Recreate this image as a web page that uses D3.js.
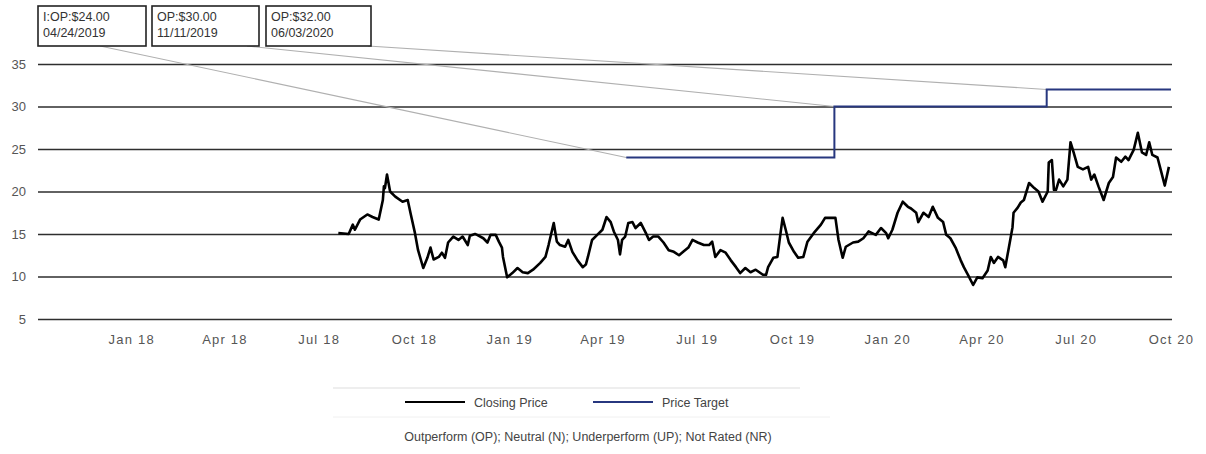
<!DOCTYPE html>
<html>
<head>
<meta charset="utf-8">
<script src="https://cdn.jsdelivr.net/npm/d3@7/dist/d3.min.js"></script>
<style>
  * { margin: 0; padding: 0; }
  body { background: #fff; }
  svg text { font-family: "Liberation Sans", Arial, sans-serif; }
  .grid line { stroke: #2e2e2e; stroke-width: 1.7; }
  .grid text, .xaxis text { fill: #555; font-size: 13px; }
  .xaxis text { letter-spacing: 1.2px; }
</style>
</head>
<body>
<script>
// closing price
var priceDates = [
  "2018-07-20","2018-07-30","2018-08-03","2018-08-05","2018-08-10","2018-08-17","2018-08-22","2018-08-28",
  "2018-09-01","2018-09-02","2018-09-03","2018-09-05","2018-09-08","2018-09-13","2018-09-20","2018-09-25",
  "2018-09-28","2018-10-02","2018-10-05","2018-10-10","2018-10-14","2018-10-17","2018-10-20","2018-10-25",
  "2018-10-28","2018-10-31","2018-11-03","2018-11-08","2018-11-13","2018-11-17","2018-11-22","2018-11-24",
  "2018-11-29","2018-12-01","2018-12-07","2018-12-11","2018-12-14","2018-12-19","2018-12-22","2018-12-25",
  "2018-12-26","2018-12-30","2019-01-04","2019-01-09","2019-01-14","2019-01-19","2019-01-24","2019-01-31",
  "2019-02-05","2019-02-08","2019-02-13","2019-02-16","2019-02-19","2019-02-24","2019-02-27","2019-03-03",
  "2019-03-08","2019-03-13","2019-03-16","2019-03-18","2019-03-22","2019-03-27","2019-04-01","2019-04-05",
  "2019-04-09","2019-04-12","2019-04-16","2019-04-18","2019-04-20","2019-04-23","2019-04-26","2019-04-30",
  "2019-05-03","2019-05-08","2019-05-13","2019-05-16","2019-05-20","2019-05-25","2019-05-30","2019-06-04",
  "2019-06-09","2019-06-14","2019-06-18","2019-06-23","2019-06-27","2019-07-02","2019-07-08","2019-07-13",
  "2019-07-16","2019-07-19","2019-07-24","2019-07-29","2019-08-03","2019-08-08","2019-08-12","2019-08-17",
  "2019-08-22","2019-08-27","2019-09-03","2019-09-06","2019-09-08","2019-09-13","2019-09-17","2019-09-20",
  "2019-09-22","2019-09-25","2019-09-28","2019-10-03","2019-10-07","2019-10-12","2019-10-16","2019-10-22",
  "2019-10-29","2019-11-02","2019-11-07","2019-11-12","2019-11-15","2019-11-19","2019-11-22","2019-11-29",
  "2019-12-04","2019-12-09","2019-12-14","2019-12-21","2019-12-26","2019-12-31","2020-01-02","2020-01-06",
  "2020-01-11","2020-01-16","2020-01-21","2020-01-24","2020-01-29","2020-01-31","2020-02-05","2020-02-10",
  "2020-02-14","2020-02-19","2020-02-24","2020-02-27","2020-03-02","2020-03-07","2020-03-12","2020-03-15",
  "2020-03-19","2020-03-24","2020-03-28","2020-04-02","2020-04-07","2020-04-10","2020-04-13","2020-04-17",
  "2020-04-22","2020-04-24","2020-04-27","2020-05-01","2020-05-02","2020-05-06","2020-05-09","2020-05-12",
  "2020-05-17","2020-05-22","2020-05-26","2020-05-30","2020-06-04","2020-06-05","2020-06-08","2020-06-10",
  "2020-06-12","2020-06-15","2020-06-19","2020-06-23","2020-06-26","2020-06-29","2020-07-03","2020-07-08",
  "2020-07-13","2020-07-16","2020-07-19","2020-07-23","2020-07-28","2020-08-02","2020-08-06","2020-08-09",
  "2020-08-14","2020-08-18","2020-08-21","2020-08-26","2020-08-30","2020-09-03","2020-09-07","2020-09-10",
  "2020-09-13","2020-09-18","2020-09-21","2020-09-25","2020-09-29"
];
var priceValues = [
  15.1,15.0,16.1,15.5,16.7,17.3,17.0,16.7,
  19.0,20.6,20.4,22.0,20.0,19.4,18.8,19.0,
  17.3,15.1,13.1,11.0,12.2,13.4,12.0,12.3,
  12.8,12.2,14.0,14.7,14.3,14.7,13.7,14.8,
  15.0,14.9,14.5,14.0,14.9,14.9,14.1,13.4,
  12.3,9.9,10.4,11.0,10.5,10.4,10.8,11.6,
  12.3,13.7,16.3,14.1,13.7,13.5,14.3,12.9,
  11.9,11.1,11.4,12.3,14.3,14.9,15.5,17.0,
  16.4,15.3,14.3,12.6,14.3,14.7,16.3,16.4,
  15.7,16.3,15.1,14.3,14.7,14.7,14.0,13.1,
  12.9,12.5,12.9,13.4,14.3,14.0,13.7,13.7,
  14.1,12.3,13.1,12.8,11.9,11.1,10.4,11.0,
  10.5,10.8,10.2,10.2,11.1,12.2,12.3,15.1,
  16.9,15.5,14.0,12.9,12.2,12.3,14.1,15.1,
  16.1,16.9,16.9,16.9,14.3,12.2,13.5,14.0,
  14.1,14.5,15.3,14.9,15.7,15.1,14.5,15.5,
  17.5,18.8,18.2,18.0,17.5,16.4,17.5,17.0,
  18.2,16.9,16.4,14.9,14.5,13.4,11.9,11.1,
  10.2,9.0,9.9,9.8,10.7,12.3,11.6,12.3,
  11.9,11.1,13.1,15.8,17.5,18.1,18.7,19.0,
  21.0,20.4,20.0,18.8,20.0,23.4,23.7,20.2,
  20.2,21.4,20.6,21.4,25.8,24.6,22.9,22.6,
  22.9,21.4,22.0,20.6,19.0,21.0,21.7,24.0,
  23.5,24.1,23.7,24.9,26.9,24.6,24.3,25.8,
  24.3,24.0,22.6,20.7,22.9
];

// price target changes
var targetDates = ["2019-04-24", "2019-11-11", "2020-06-03"];
var targetValues = [24, 30, 32];
var targetLabels = ["I:OP:$24.00", "OP:$30.00", "OP:$32.00"];
var targetDateLabels = ["04/24/2019", "11/11/2019", "06/03/2020"];
var targetEnd = "2020-10-01";

var yTicks = [5, 10, 15, 20, 25, 30, 35];
var xTicks = ["2018-01-01","2018-04-01","2018-07-01","2018-10-01","2019-01-01","2019-04-01",
  "2019-07-01","2019-10-01","2020-01-01","2020-04-01","2020-07-01","2020-10-01"];

var W = 1206, H = 454;
var padL = 38, padR = 1172, padT = 64, padB = 319;

var parse = d3.timeParse("%Y-%m-%d");

var x = d3.scaleTime()
  .domain([parse("2017-10-03"), parse("2020-10-02")])
  .range([padL, padR]);
var y = d3.scaleLinear()
  .domain([5, 35])
  .range([padB, padT]);

var svg = d3.select("body").append("svg")
  .attr("width", W)
  .attr("height", H);

// horizontal grid + y labels
svg.append("g")
  .attr("class", "grid")
  .attr("transform", "translate(" + padL + ",0)")
  .call(d3.axisLeft(y).tickValues(yTicks).tickSize(-(padR - padL)).tickPadding(12))
  .call(function(g) { g.select(".domain").remove(); });

// x labels
svg.append("g")
  .attr("class", "xaxis")
  .attr("transform", "translate(0," + padB + ")")
  .call(d3.axisBottom(x).tickValues(xTicks.map(parse)).tickSize(0).tickPadding(16)
    .tickFormat(d3.timeFormat("%b %y")))
  .call(function(g) { g.select(".domain").remove(); });

// build series
var price = priceDates.map(function(d, i) { return { date: parse(d), value: priceValues[i] }; });
var target = targetDates.map(function(d, i) { return { date: parse(d), value: targetValues[i] }; });
var targetLine = target.concat([{ date: parse(targetEnd), value: targetValues[targetValues.length - 1] }]);

var line = d3.line()
  .x(function(d) { return x(d.date); })
  .y(function(d) { return y(d.value); });

// annotation boxes and leader lines
var boxX = [38, 152, 266], boxW = [108, 107, 105], boxY = 6, boxH = 40;
var anchorX = [100, 247, 368];

svg.selectAll(".leader")
  .data(target)
  .enter().append("line")
  .attr("class", "leader")
  .attr("x1", function(d, i) { return anchorX[i]; })
  .attr("y1", boxY + boxH)
  .attr("x2", function(d) { return x(d.date); })
  .attr("y2", function(d) { return y(d.value); })
  .attr("stroke", "#b0b0b0")
  .attr("stroke-width", 1.1);

var boxes = svg.selectAll(".note")
  .data(target)
  .enter().append("g")
  .attr("class", "note")
  .attr("transform", function(d, i) { return "translate(" + boxX[i] + "," + boxY + ")"; });
boxes.append("rect")
  .attr("width", function(d, i) { return boxW[i]; })
  .attr("height", boxH)
  .attr("fill", "#fff")
  .attr("stroke", "#222")
  .attr("stroke-width", 1.6);
boxes.append("text")
  .attr("x", 5).attr("y", 15)
  .attr("font-size", 12.5).attr("fill", "#333")
  .text(function(d, i) { return targetLabels[i]; });
boxes.append("text")
  .attr("x", 5).attr("y", 31)
  .attr("font-size", 12.5).attr("fill", "#333")
  .text(function(d, i) { return targetDateLabels[i]; });

// price target
svg.append("path")
  .datum(targetLine)
  .attr("fill", "none")
  .attr("stroke", "#27377f")
  .attr("stroke-width", 2)
  .attr("d", line.curve(d3.curveStepAfter));

// closing price
svg.append("path")
  .datum(price)
  .attr("fill", "none")
  .attr("stroke", "#000")
  .attr("stroke-width", 2.6)
  .attr("stroke-linejoin", "round")
  .attr("d", line.curve(d3.curveLinear));

// legend
svg.append("line")
  .attr("x1", 333).attr("x2", 800).attr("y1", 388).attr("y2", 388)
  .attr("stroke", "#ddd");
var legend = [
  { name: "Closing Price", color: "#000", x: 405 },
  { name: "Price Target", color: "#27377f", x: 593 }
];
var lg = svg.selectAll(".lg")
  .data(legend)
  .enter().append("g")
  .attr("transform", function(d) { return "translate(" + d.x + ",402)"; });
lg.append("line")
  .attr("x1", 0).attr("x2", 60)
  .attr("stroke", function(d) { return d.color; })
  .attr("stroke-width", 2.2);
lg.append("text")
  .attr("x", 69).attr("y", 4.5)
  .attr("font-size", 12.5).attr("fill", "#444")
  .text(function(d) { return d.name; });

svg.append("line")
  .attr("x1", 333).attr("x2", 830).attr("y1", 417).attr("y2", 417)
  .attr("stroke", "#f0f0f0");

svg.append("text")
  .attr("x", 588).attr("y", 441)
  .attr("text-anchor", "middle")
  .attr("font-size", 12.5).attr("fill", "#444")
  .text("Outperform (OP); Neutral (N); Underperform (UP); Not Rated (NR)");
</script>
</body>
</html>
